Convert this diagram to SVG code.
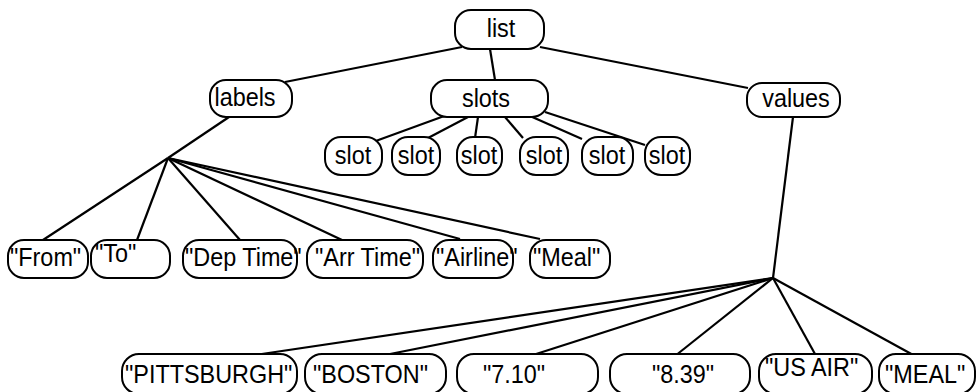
<svg xmlns="http://www.w3.org/2000/svg" width="978" height="392" viewBox="0 0 978 392">
<style>
.n{fill:#fff;stroke:#000;stroke-width:2}
.t{font-family:"Liberation Sans",Arial,sans-serif;font-size:26px;fill:#000}
.c{text-anchor:middle}
.e line{stroke:#000;stroke-width:2.2}
</style>
<rect width="978" height="392" fill="#fff"/>
<g id="edges" class="e">
<line x1="462" y1="47" x2="285" y2="82"/>
<line x1="490" y1="49" x2="495" y2="80"/>
<line x1="540" y1="47" x2="748" y2="88"/>
<line x1="232" y1="115" x2="168" y2="158"/>
<line x1="168" y1="158" x2="43" y2="240"/>
<line x1="168" y1="158" x2="137" y2="240"/>
<line x1="168" y1="158" x2="240" y2="240"/>
<line x1="168" y1="158" x2="342" y2="240"/>
<line x1="168" y1="158" x2="460" y2="239"/>
<line x1="168" y1="158" x2="540" y2="239"/>
<line x1="447" y1="115" x2="373" y2="142"/>
<line x1="468" y1="117" x2="428" y2="138"/>
<line x1="478" y1="117" x2="475" y2="138"/>
<line x1="505" y1="117" x2="523" y2="138"/>
<line x1="530" y1="116" x2="582" y2="139"/>
<line x1="545" y1="112" x2="645" y2="145"/>
<line x1="793" y1="117" x2="773" y2="278"/>
<line x1="773" y1="278" x2="255" y2="355"/>
<line x1="773" y1="278" x2="385" y2="355"/>
<line x1="773" y1="278" x2="533" y2="355"/>
<line x1="773" y1="278" x2="675" y2="356"/>
<line x1="773" y1="278" x2="815" y2="354"/>
<line x1="773" y1="278" x2="915" y2="356"/>
</g>
<g id="list"><rect class="n" x="455" y="10" width="89" height="39" rx="16"/><text class="t c" transform="translate(501,37) scale(0.9,1)">list</text></g>
<g id="labels"><rect class="n" x="210" y="80" width="82" height="37" rx="16"/><text class="t c" transform="translate(245,106) scale(0.9,1)">labels</text></g>
<g id="slots"><rect class="n" x="431" y="80" width="117" height="37" rx="16"/><text class="t c" transform="translate(486,107) scale(0.9,1)">slots</text></g>
<g id="values"><rect class="n" x="747" y="83" width="93" height="34" rx="15"/><text class="t c" transform="translate(796,107) scale(0.9,1)">values</text></g>
<g id="slot1"><rect class="n" x="325" y="137" width="57" height="38" rx="16"/><text class="t c" transform="translate(353,164) scale(0.9,1)">slot</text></g>
<g id="slot2"><rect class="n" x="392" y="137" width="48" height="38" rx="16"/><text class="t c" transform="translate(416,164) scale(0.9,1)">slot</text></g>
<g id="slot3"><rect class="n" x="457" y="137" width="45" height="38" rx="16"/><text class="t c" transform="translate(479,164) scale(0.9,1)">slot</text></g>
<g id="slot4"><rect class="n" x="520" y="137" width="48" height="38" rx="16"/><text class="t c" transform="translate(544,164) scale(0.9,1)">slot</text></g>
<g id="slot5"><rect class="n" x="582" y="137" width="51" height="38" rx="16"/><text class="t c" transform="translate(607,164) scale(0.9,1)">slot</text></g>
<g id="slot6"><rect class="n" x="645" y="137" width="45" height="38" rx="16"/><text class="t c" transform="translate(667,164) scale(0.9,1)">slot</text></g>
<g id="from"><rect class="n" x="8" y="240" width="80" height="38" rx="16"/><text class="t" transform="translate(10,266) scale(0.9,1)">"From"</text></g>
<g id="to"><rect class="n" x="91" y="240" width="79" height="38" rx="16"/><text class="t" transform="translate(95,262) scale(0.9,1)">"To"</text></g>
<g id="deptime"><rect class="n" x="183" y="240" width="114" height="38" rx="16"/><text class="t" transform="translate(185,266) scale(0.9,1)">"Dep Time"</text></g>
<g id="arrtime"><rect class="n" x="307" y="240" width="116" height="38" rx="16"/><text class="t" transform="translate(315,266) scale(0.9,1)">"Arr Time"</text></g>
<g id="airline"><rect class="n" x="433" y="240" width="80" height="38" rx="16"/><text class="t" transform="translate(436,266) scale(0.9,1)">"Airline"</text></g>
<g id="meal"><rect class="n" x="530" y="240" width="80" height="38" rx="16"/><text class="t" transform="translate(533,266) scale(0.9,1)">"Meal"</text></g>
<g id="pittsburgh"><rect class="n" x="122" y="354" width="175" height="40" rx="17"/><text class="t" transform="translate(125,383) scale(0.9,1)">"PITTSBURGH"</text></g>
<g id="boston"><rect class="n" x="305" y="354" width="141" height="40" rx="17"/><text class="t" transform="translate(313,383) scale(0.9,1)">"BOSTON"</text></g>
<g id="v710"><rect class="n" x="457" y="354" width="141" height="40" rx="17"/><text class="t" transform="translate(483,383) scale(0.9,1)">"7.10"</text></g>
<g id="v839"><rect class="n" x="610" y="354" width="140" height="40" rx="17"/><text class="t" transform="translate(652,383) scale(0.9,1)">"8.39"</text></g>
<g id="usair"><rect class="n" x="759" y="354" width="113" height="40" rx="17"/><text class="t" transform="translate(765,376) scale(0.9,1)">"US AIR"</text></g>
<g id="mealv"><rect class="n" x="879" y="354" width="96" height="40" rx="17"/><text class="t" transform="translate(885,383) scale(0.9,1)">"MEAL"</text></g>
</svg>
